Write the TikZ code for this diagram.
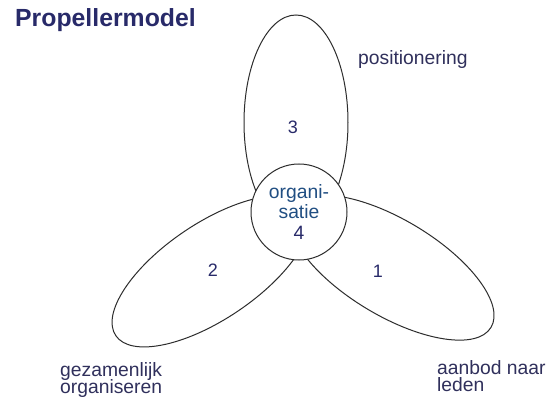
\documentclass[tikz,border=0pt]{standalone}
\usepackage{fontspec}
\setmainfont{Liberation Sans}
\usetikzlibrary{shapes.geometric}
\usetikzlibrary{positioning}

\definecolor{titlenavy}{RGB}{40,42,105}
\definecolor{textnavy}{RGB}{48,48,92}
\definecolor{orgblue}{RGB}{32,78,130}
\definecolor{linegray}{RGB}{45,45,45}

\begin{document}
\begin{tikzpicture}[x=1pt,y=1pt,
	petal/.style={draw=linegray,line width=1pt,ellipse,inner sep=0pt},
	txt/.style={inner sep=0pt,anchor=base west,text=textnavy,font=\fontsize{19.3}{20}\selectfont},
	num/.style={inner sep=0pt,text=titlenavy,font=\fontsize{18}{20}\selectfont},
	]
	\useasboundingbox[fill=white] (0,0) rectangle (550,-412);

	% Titel
	% -----
	\node[txt,text=titlenavy,font=\fontsize{24.8}{28}\selectfont\bfseries] (title) at (15,-27) {Propellermodel};

	% bladen van de propeller
	\node[petal,minimum width=104pt,minimum height=215pt] (petal3) at (296,-122.5) {};
	\node[petal,rotate=34,minimum width=230pt,minimum height=96pt] (petal2) at (211.1,-271.3) {};
	\node[petal,rotate=-31,minimum width=232pt,minimum height=96pt] (petal1) at (391.6,-267.6) {};

	% naaf
	\node[draw=linegray,line width=1pt,fill=white,circle,minimum size=96pt,inner sep=0pt,
		  align=center,text=titlenavy,font=\fontsize{19.3}{20.5}\selectfont]
		  (org) at (299,-212) {\textcolor{orgblue}{organi-}\\\textcolor{orgblue}{satie}\\4};

	% nummers
	\node[num] (n3) at (293,-127) {3};
	\node[num] (n2) at (213,-270) {2};
	\node[num] (n1) at (378,-271) {1};

	% teksten bij de bladen
	\node[txt] (pos) at (358,-65) {positionering};
	\node[txt] (gez1) at (60,-376) {gezamenlijk};
	\node[txt] (gez2) at (60,-393.5) {organiseren};
	\node[txt] (aan1) at (437,-374) {aanbod naar};
	\node[txt] (aan2) at (437,-391.5) {leden};
\end{tikzpicture}
\end{document}
